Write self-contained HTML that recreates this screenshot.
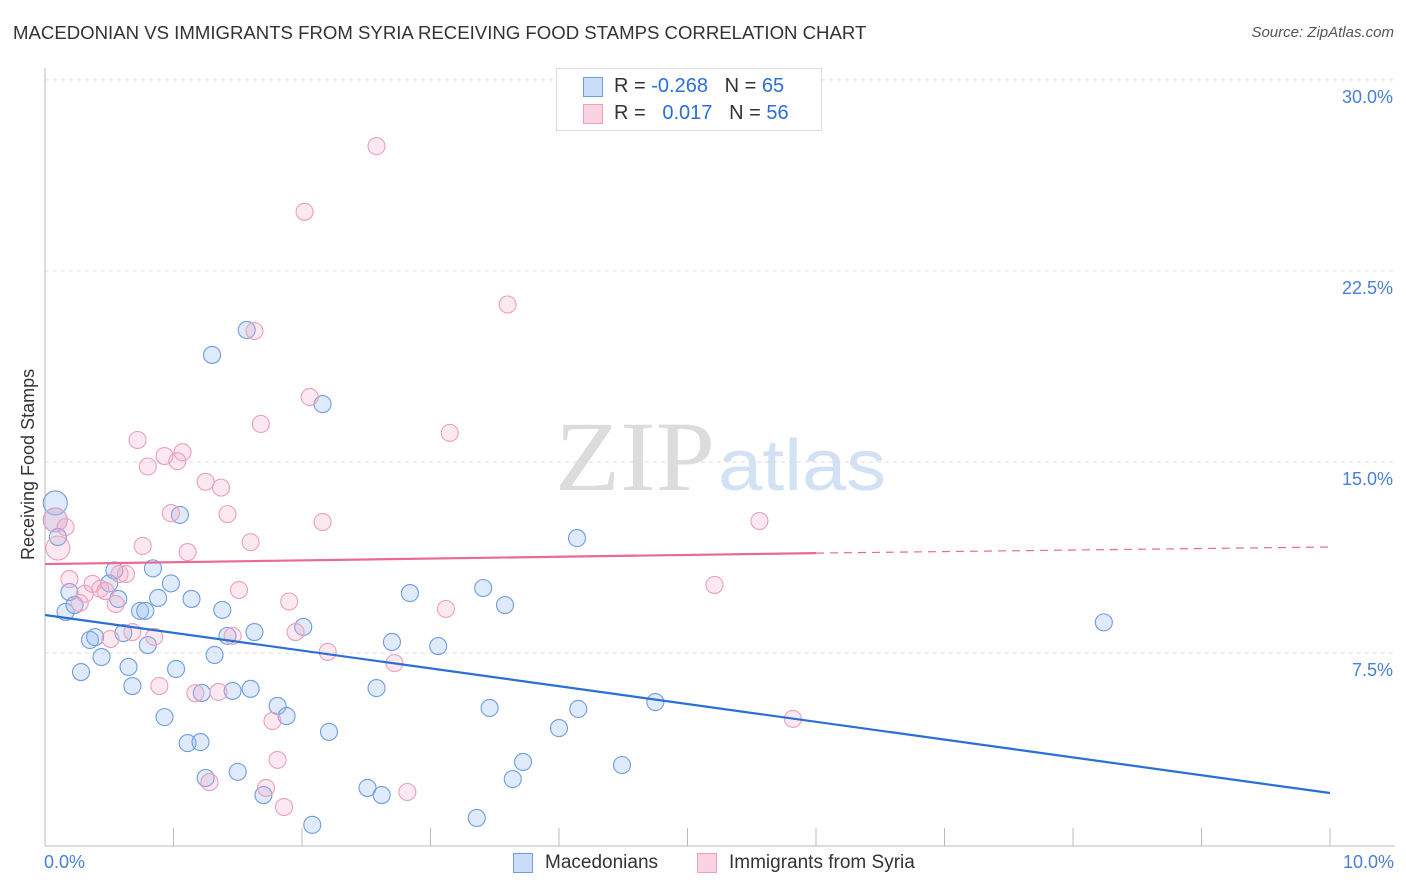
<!DOCTYPE html>
<html><head><meta charset="utf-8"><style>
body{margin:0;background:#fff;font-family:"Liberation Sans",sans-serif}
#wrap{position:relative;width:1406px;height:892px;overflow:hidden}
.t{position:absolute;white-space:nowrap}
</style></head><body>
<div id="wrap">
<div class="t" style="left:13px;top:22px;font-size:18.6px;color:#333">MACEDONIAN VS IMMIGRANTS FROM SYRIA RECEIVING FOOD STAMPS CORRELATION CHART</div>
<div class="t" style="right:12px;top:24px;font-size:15px;color:#555;font-style:italic">Source: ZipAtlas.com</div>
<svg id="svg" width="1406" height="892" style="position:absolute;left:0;top:0"></svg>
</div>
<script>
const yTicks=[7.5,15,22.5,30];
const yTickLabels=["7.5%","15.0%","22.5%","30.0%"];
const blueX=[0.08,0.08,0.1,0.16,0.19,0.23,0.28,0.35,0.39,0.44,0.5,0.54,0.57,0.61,0.65,0.68,0.74,0.78,0.8,0.84,0.88,0.93,0.98,1.02,1.05,1.11,1.14,1.21,1.22,1.25,1.3,1.32,1.38,1.42,1.46,1.5,1.57,1.6,1.63,1.7,1.81,1.88,2.01,2.08,2.16,2.21,2.51,2.58,2.62,2.7,2.84,3.06,3.36,3.41,3.46,3.58,3.64,3.72,4.0,4.15,4.14,4.49,4.75,8.24];
const blueY=[13.47,12.8,12.13,9.19,9.97,9.46,6.83,8.09,8.2,7.42,10.31,10.82,9.7,8.36,7.03,6.28,9.23,9.23,7.89,10.9,9.74,5.06,10.31,6.95,13.0,4.04,9.7,4.08,6.01,2.67,19.28,7.5,9.27,8.25,6.09,2.91,20.26,6.17,8.4,2.0,5.50,5.1,8.6,0.83,17.35,4.48,2.28,6.2,2.0,8.01,9.93,7.85,1.1,10.13,5.42,9.46,2.63,3.3,4.63,5.38,12.09,3.18,5.65,8.78];
const pinkX=[0.08,0.1,0.16,0.19,0.27,0.31,0.37,0.43,0.47,0.51,0.55,0.58,0.63,0.68,0.72,0.76,0.8,0.85,0.89,0.93,0.98,1.03,1.07,1.11,1.17,1.25,1.28,1.35,1.37,1.42,1.46,1.51,1.6,1.63,1.68,1.72,1.77,1.81,1.86,1.9,1.95,2.02,2.06,2.16,2.2,2.58,2.72,2.82,3.12,3.15,3.6,5.21,5.56,5.82];
const pinkY=[12.8,11.7,12.52,10.48,9.54,9.9,10.29,10.1,10.01,8.13,9.5,10.68,10.68,8.4,15.94,11.78,14.9,8.21,6.28,15.31,13.07,15.11,15.46,11.54,6.0,14.3,2.51,6.05,14.07,13.03,8.25,10.05,11.93,20.22,16.57,2.28,4.91,3.38,1.53,9.6,8.4,24.9,17.63,12.72,7.62,27.48,7.18,2.12,9.31,16.22,21.26,10.25,12.76,4.99];
const blueTrend=[9.07,2.08];
const pinkTrend=[11.07,11.5,11.74];
const X0=45,X1=1330,Y0=846,PY=25.47;
const sx=v=>X0+v/10*(X1-X0), sy=v=>Y0-v*PY;
const svg=document.getElementById('svg');
const NS='http://www.w3.org/2000/svg';
function mk(t,a,p){const e=document.createElementNS(NS,t);for(const k in a)e.setAttribute(k,a[k]);(p||svg).appendChild(e);return e;}
let w=mk('text',{x:555,y:490,'font-family':'Liberation Serif,serif','font-size':100,fill:'#dcdcdc',textLength:160,lengthAdjust:'spacingAndGlyphs'});w.textContent='ZIP';

w=mk('text',{x:718,y:490,'font-family':'Liberation Sans,sans-serif','font-size':72,fill:'#d3e1f5',textLength:168,lengthAdjust:'spacingAndGlyphs'});w.textContent='atlas';

yTicks.forEach((v,i)=>{
 const l=mk('line',{x1:45,x2:1395,y1:sy(v)-2,y2:sy(v)-2,stroke:'#ddd','stroke-dasharray':'4,4'});
 
 const t=mk('text',{x:1393,y:sy(v)+21,'text-anchor':'end','font-size':18,fill:'#4a7fd6','font-family':'Liberation Sans,sans-serif'});
 t.textContent=yTickLabels[i];
 
});
let a=mk('line',{x1:45,x2:45,y1:68,y2:846,stroke:'#bbb'});
a=mk('line',{x1:45,x2:1395,y1:846,y2:846,stroke:'#bbb'});
for(let i=1;i<=10;i++){const k=mk('line',{x1:sx(i),x2:sx(i),y1:828,y2:846,stroke:'#bbb'});}
function pts(X,Y,fill,stroke,name){X.forEach((x,i)=>{
 const r=(i<2&&x<0.2)?12:8.5;
 const c=mk('circle',{cx:sx(x),cy:sy(Y[i]),r:r,fill:fill,stroke:stroke,'stroke-width':1.1});
 });}
pts(blueX,blueY,'rgba(150,185,240,0.3)','#6f9de0','macedonian-point');
pts(pinkX,pinkY,'rgba(245,165,195,0.25)','#eba0bb','syria-point');
let tl=mk('line',{x1:sx(0),y1:sy(blueTrend[0]),x2:sx(10),y2:sy(blueTrend[1]),stroke:'#2a6fd6','stroke-width':2.2});

tl=mk('line',{x1:sx(0),y1:sy(pinkTrend[0]),x2:sx(6),y2:sy(pinkTrend[1]),stroke:'#e86a95','stroke-width':2.2});

tl=mk('line',{x1:sx(6),y1:sy(pinkTrend[1]),x2:sx(10),y2:sy(pinkTrend[2]),stroke:'#e86a95','stroke-width':1.2,'stroke-dasharray':'8,6'});

</script>
<div class="t" style="left:44px;top:852px;font-size:18px;color:#4a7fd6">0.0%</div>
<div class="t" style="right:12px;top:852px;font-size:18px;color:#4a7fd6">10.0%</div>
<div class="t" style="left:18px;top:560px;font-size:18px;color:#333;transform:rotate(-90deg);transform-origin:0 0">Receiving Food Stamps</div>
<div style="position:absolute;left:556px;top:68px;width:264px;height:61px;border:1px solid #ddd;background:#fff;font-size:20px;color:#333">
 <div class="t" style="left:26px;top:8px;width:20px;height:20px;background:rgba(150,185,240,0.5);border:1px solid #6f9de0;box-sizing:border-box"></div>
 <div class="t" style="left:57px;top:6px">R = <span style="color:#2a6fd6">-0.268</span>&nbsp;&nbsp;&nbsp;N = <span style="color:#2a6fd6">65</span></div>
 <div class="t" style="left:26px;top:35px;width:20px;height:20px;background:rgba(245,165,195,0.5);border:1px solid #eba0bb;box-sizing:border-box"></div>
 <div class="t" style="left:57px;top:33px">R = &nbsp;&nbsp;<span style="color:#2a6fd6">0.017</span>&nbsp;&nbsp;&nbsp;N = <span style="color:#2a6fd6">56</span></div>
</div>
<div class="t" style="left:513px;top:853px;width:20px;height:20px;background:rgba(150,185,240,0.5);border:1px solid #6f9de0;box-sizing:border-box"></div>
<div class="t" style="left:545px;top:852px;font-size:19px;color:#333">Macedonians</div>
<div class="t" style="left:697px;top:853px;width:20px;height:20px;background:rgba(245,165,195,0.5);border:1px solid #eba0bb;box-sizing:border-box"></div>
<div class="t" style="left:729px;top:852px;font-size:19px;color:#333">Immigrants from Syria</div>
</body></html>
